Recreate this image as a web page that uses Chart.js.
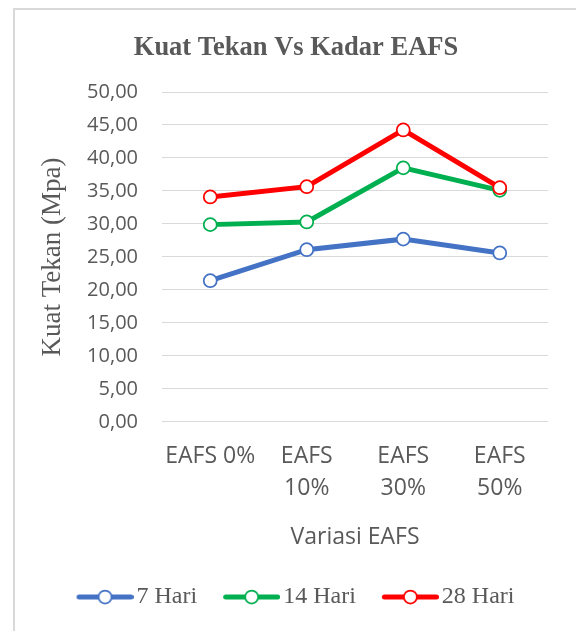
<!DOCTYPE html>
<html lang="id">
<head>
    <meta charset="UTF-8">
    <title>Kuat Tekan Vs Kadar EAFS</title>
    <script src="https://cdn.jsdelivr.net/npm/chart.js"></script>
    <style>
        html, body { margin: 0; padding: 0; background: #fff; overflow: hidden; }
        #frame { position: absolute; left: 13px; top: 8px; width: 700px; height: 700px; border: 2px solid #d9d9d9; }
        #wrap { position: absolute; left: 0; top: 0; width: 576px; height: 631px; }
    </style>
</head>
<body>
    <div id="frame"></div>
    <div id="wrap">
        <canvas id="kuatChart" width="576" height="631"></canvas>
    </div>

    <script>
        const categories = [['EAFS 0%'], ['EAFS', '10%'], ['EAFS', '30%'], ['EAFS', '50%']];
        const hari7 = [21.4, 26.1, 27.7, 25.6];
        const hari14 = [29.9, 30.3, 38.5, 35.1];
        const hari28 = [34.1, 35.65, 44.25, 35.5];
        const yTickLabels = ['0,00', '5,00', '10,00', '15,00', '20,00', '25,00', '30,00', '35,00', '40,00', '45,00', '50,00'];

        const seriesNames = ['7 Hari', '14 Hari', '28 Hari'];
        const seriesColors = ['#4472C4', '#00B050', '#FF0000'];

        const textColor = '#595959';
        const serif = "'Liberation Serif', 'Times New Roman', serif";
        const sans = "'Open Sans', sans-serif";

        // legend symbol: short thick line with an open circle in the middle
        // (8px transparent margin on the left so the symbol sits close to its text)
        function legendIcon(color) {
            const c = document.createElement('canvas');
            c.width = 65;
            c.height = 16;
            const g = c.getContext('2d');
            g.strokeStyle = color;
            g.lineWidth = 5;
            g.lineCap = 'round';
            g.beginPath();
            g.moveTo(10.5, 8);
            g.lineTo(62.5, 8);
            g.stroke();
            g.beginPath();
            g.arc(36.5, 8, 6.5, 0, Math.PI * 2);
            g.fillStyle = '#fff';
            g.fill();
            g.lineWidth = 1.75;
            g.stroke();
            return c;
        }
        const legendIcons = seriesColors.map(legendIcon);

        function makeDataset(i, values, order) {
            return {
                label: seriesNames[i],
                data: values,
                borderColor: seriesColors[i],
                backgroundColor: seriesColors[i],
                borderWidth: 5,
                pointRadius: 6.5,
                pointHoverRadius: 6.5,
                pointBackgroundColor: '#fff',
                pointBorderColor: seriesColors[i],
                pointBorderWidth: 1.75,
                tension: 0,
                order: order
            };
        }

        const ctx = document.getElementById('kuatChart').getContext('2d');
        new Chart(ctx, {
            type: 'line',
            data: {
                labels: categories,
                datasets: [
                    makeDataset(0, hari7, 2),
                    makeDataset(1, hari14, 1),
                    makeDataset(2, hari28, 0)
                ]
            },
            options: {
                responsive: false,
                animation: false,
                layout: {
                    padding: { left: 44, right: 28, top: 0, bottom: 12 }
                },
                scales: {
                    x: {
                        offset: true,
                        grid: { display: false, drawTicks: false },
                        border: { display: false },
                        ticks: {
                            color: textColor,
                            padding: 19,
                            maxRotation: 0,
                            autoSkip: false,
                            font: { family: sans, size: 23, lineHeight: 1.391 }
                        },
                        title: {
                            display: true,
                            text: 'Variasi EAFS',
                            color: textColor,
                            font: { family: sans, size: 23, lineHeight: 1.2 },
                            padding: { top: 0, bottom: 6.5 }
                        }
                    },
                    y: {
                        min: 0,
                        max: 50,
                        grid: { color: '#d9d9d9', lineWidth: 1, drawTicks: false },
                        border: { display: false },
                        ticks: {
                            stepSize: 5,
                            color: textColor,
                            padding: 24,
                            font: { family: sans, size: 20 },
                            callback: (value, index) => yTickLabels[index]
                        },
                        title: {
                            display: true,
                            text: 'Kuat Tekan (Mpa)',
                            color: textColor,
                            font: { family: serif, size: 27, lineHeight: 1 },
                            padding: { top: -4.5, bottom: 0 }
                        },
                        afterFit: (scale) => { scale.width = 118; }
                    }
                },
                plugins: {
                    title: {
                        display: true,
                        text: 'Kuat Tekan Vs Kadar EAFS',
                        color: textColor,
                        font: { family: serif, size: 26.5, weight: 'bold', lineHeight: 1.2 },
                        padding: { top: 32, bottom: 28.2 }
                    },
                    legend: {
                        position: 'bottom',
                        labels: {
                            color: textColor,
                            font: { family: serif, size: 24 },
                            usePointStyle: true,
                            pointStyleWidth: 47,
                            boxHeight: 16,
                            padding: 27,
                            sort: (a, b) => a.datasetIndex - b.datasetIndex,
                            generateLabels: (chart) => {
                                const items = Chart.defaults.plugins.legend.labels.generateLabels(chart);
                                items.forEach(it => { it.pointStyle = legendIcons[it.datasetIndex]; });
                                return items;
                            }
                        }
                    },
                    tooltip: { enabled: false }
                }
            }
        });
    </script>
</body>
</html>
